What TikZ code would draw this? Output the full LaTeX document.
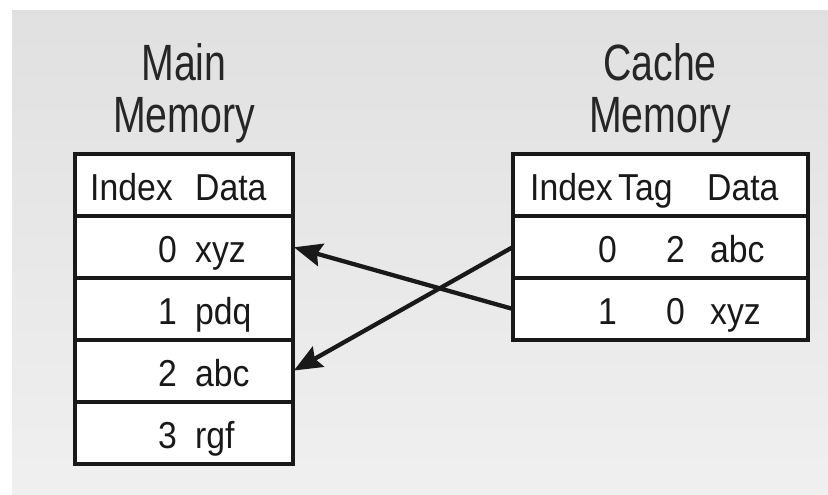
\documentclass[tikz,border=0pt]{standalone}
\usepackage{fontspec}
\setmainfont{Liberation Sans}
\newfontfamily\titlefont[FakeStretch=0.77]{Liberation Sans}
\newfontfamily\cellfont[FakeStretch=0.9]{Liberation Sans}
\usetikzlibrary{positioning,arrows.meta,calc}

\tikzset{
	memrow/.style={draw=black!90, fill=white, line width=4.5pt, inner sep=0pt, outer sep=0pt, minimum height=62pt},
	mainrow/.style={memrow, minimum width=218pt},
	cacherow/.style={memrow, minimum width=295pt},
	celltext/.style={inner sep=0pt, text=black!90, font=\cellfont\fontsize{37.5}{40}\selectfont},
	memtitle/.style={inner sep=0pt, align=center, text=black!85, font=\titlefont\fontsize{51}{52}\selectfont},
	fetch/.style={line width=4.3pt, draw=black!90, -{Stealth[length=28pt,width=23pt,inset=4pt]}, shorten >=1pt}
}

\begin{document}
\begin{tikzpicture}[x=1pt,y=-1pt]
		%%%%% START %%%%%
		\useasboundingbox (0,0) rectangle (828,495);
		\fill[top color=black!12, bottom color=black!6] (12,11) rectangle (828,495);
		
		% main memory
		\node[memtitle, anchor=south] (mtitle) at (184,143) {Main\\Memory};
		\node[mainrow] (mh) at (184,185) {};
		\node[mainrow, below=0pt of mh] (m0) {};
		\node[mainrow, below=0pt of m0] (m1) {};
		\node[mainrow, below=0pt of m1] (m2) {};
		\node[mainrow, below=0pt of m2] (m3) {};
		
		\node[celltext, anchor=base west] (mhi) at (90,200) {Index};
		\node[celltext, anchor=base west] (mhd) at (195,200) {Data};
		\foreach \i/\d in {0/xyz,1/pdq,2/abc,3/rgf} {
			\node[celltext, anchor=base east] (mi\i) at (177,{262+62*\i}) {\i};
			\node[celltext, anchor=base west] (md\i) at (195,{262+62*\i}) {\d};
		}
		
		% cache memory
		\node[memtitle, anchor=south] (ctitle) at (660,143) {Cache\\Memory};
		\node[cacherow] (ch) at (660.5,185) {};
		\node[cacherow, below=0pt of ch] (c0) {};
		\node[cacherow, below=0pt of c0] (c1) {};
		
		\node[celltext, anchor=base west] (chi) at (530,200) {Index};
		\node[celltext, anchor=base west] (cht) at (618,200) {Tag};
		\node[celltext, anchor=base west] (chd) at (707,200) {Data};
		\foreach \i/\t/\d in {0/2/abc,1/0/xyz} {
			\node[celltext, anchor=base east] (ci\i) at (617,{262+62*\i}) {\i};
			\node[celltext, anchor=base east] (ct\i) at (685,{262+62*\i}) {\t};
			\node[celltext, anchor=base west] (cd\i) at (710,{262+62*\i}) {\d};
		}
		
		% mapping
		\draw[fetch] (c1.west) -- (m0.east);
		\draw[fetch] (c0.west) -- (m2.east);
		%%%%% END %%%%%
\end{tikzpicture}
\end{document}
